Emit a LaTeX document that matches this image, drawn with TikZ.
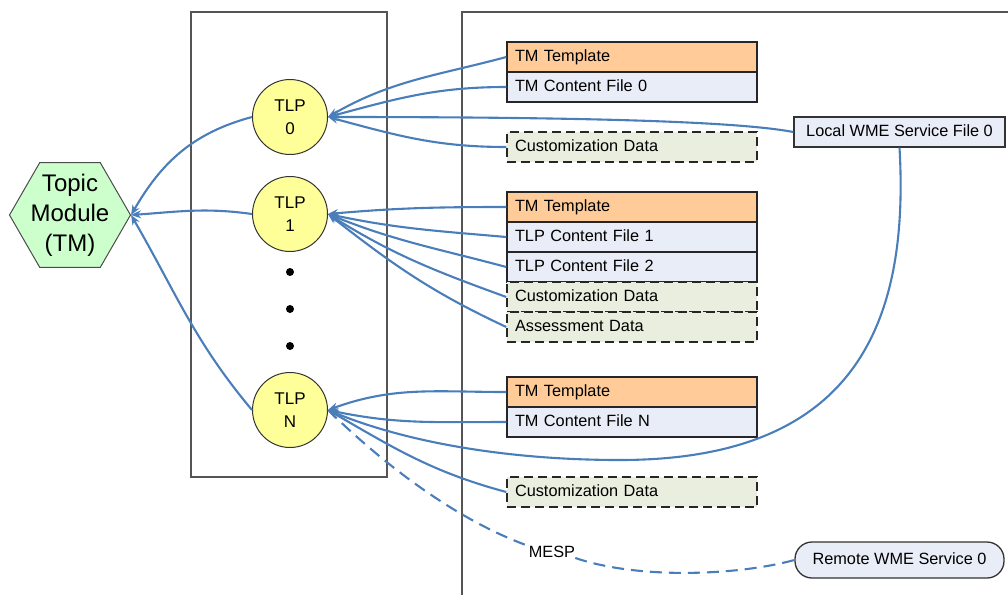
\documentclass[tikz,border=0pt]{standalone}
\usepackage{fontspec}
\setmainfont{Liberation Sans}
\usetikzlibrary{shapes.geometric,arrows.meta}
\definecolor{tplfill}{HTML}{FFCC99}
\definecolor{filefill}{HTML}{E9EDF7}
\definecolor{custfill}{HTML}{EAEEDF}
\definecolor{hexfill}{HTML}{CCFFCC}
\definecolor{tlpfill}{HTML}{FFFF99}
\definecolor{connblue}{HTML}{4A7EBB}
\definecolor{framegray}{HTML}{555555}
\begin{document}
\begin{tikzpicture}[x=1pt,y=-1pt,
  boxbase/.style={draw=black!85, line width=1.4pt, minimum height=30pt, text width=234pt,
    inner xsep=8pt, inner ysep=0pt, align=left, text height=12pt, text depth=3.5pt,
    font=\fontsize{16.3}{19}\selectfont},
  tplbox/.style={boxbase, fill=tplfill},
  filebox/.style={boxbase, fill=filefill},
  custbox/.style={boxbase, fill=custfill, dash pattern=on 9pt off 5pt},
  svcbox/.style={draw=black!80, line width=1.3pt, fill=filefill, inner xsep=0pt, inner ysep=0pt,
    align=center, text height=12pt, text depth=3.5pt, font=\fontsize{16.3}{19}\selectfont},
  tlpnode/.style={circle, draw=black!80, line width=1pt, fill=tlpfill, minimum size=75pt,
    inner sep=0pt, align=center, font=\fontsize{17}{23}\selectfont},
  dotnode/.style={circle, fill=black, inner sep=0pt, minimum size=8pt},
  conn/.style={draw=connblue, line width=2.1pt},
  arr/.style={conn, -{Stealth[length=10pt,width=8pt]}},
  frame/.style={draw=framegray, line width=1.6pt},
]
\useasboundingbox (0,0) rectangle (1008,595);

% frames
\draw[frame] (191,12) rectangle (387,477);
\draw[frame] (462,595) -- (462,12) -- (1010,12);

% topic module
\node[regular polygon, regular polygon sides=6, minimum size=121pt, inner sep=0pt,
      draw=black!70, line width=1pt, fill=hexfill] (tm) at (70,215) {};
\node[align=center, font=\fontsize{24}{30}\selectfont] (tmlabel) at (tm.center) {Topic\\Module\\(TM)};

% TLPs
\node[tlpnode] (tlp0) at (290,117) {TLP\\0};
\node[tlpnode] (tlp1) at (290,214) {TLP\\1};
\node[tlpnode] (tlpN) at (290,410) {TLP\\N};
\node[dotnode] (dot1) at (290,272) {};
\node[dotnode] (dot2) at (290,309) {};
\node[dotnode] (dot3) at (290,346) {};

% group 0
\node[tplbox]  (tmt0)  at (632,57)  {TM Template};
\node[filebox] (cf0)   at (632,87)  {TM Content File 0};
\node[custbox] (cust0) at (632,147) {Customization Data};
% group 1
\node[tplbox]  (tmt1)  at (632,207) {TM Template};
\node[filebox] (cf1)   at (632,237) {TLP Content File 1};
\node[filebox] (cf2)   at (632,267) {TLP Content File 2};
\node[custbox] (cust1) at (632,297) {Customization Data};
\node[custbox] (ass1)  at (632,327) {Assessment Data};
% group N
\node[tplbox]  (tmtN)  at (632,392) {TM Template};
\node[filebox] (cfN)   at (632,422) {TM Content File N};
\node[custbox] (custN) at (632,492) {Customization Data};

% services
\node[svcbox, minimum width=211pt, minimum height=30pt] (local) at (899.5,132) {Local WME Service File 0};
\node[svcbox, minimum width=209pt, minimum height=36pt, rounded corners=17pt] (remote) at (899.5,560) {Remote WME Service 0};

% TLP -> TM
\draw[arr] (tlp0.west) to[out=195,in=60] (tm.east);
\draw[arr] (tlp1.west) to[out=172,in=4] (tm.east);
\draw[arr] (tlpN.west) to[out=130,in=-60] (tm.east);

% group 0 -> TLP0
\draw[arr] (tmt0.west) to[out=195,in=30] (tlp0.east);
\draw[arr] (cf0.west) to[out=180,in=15] (tlp0.east);
\draw[arr] (local.west) .. controls (740,122) and (600,117) .. (tlp0.east);
\draw[arr] (cust0.west) to[out=180,in=-15] (tlp0.east);

% group 1 -> TLP1
\draw[arr] (tmt1.west) to[out=180,in=5] (tlp1.east);
\draw[arr] (cf1.west) to[out=175,in=-12] (tlp1.east);
\draw[arr] (cf2.west) to[out=165,in=-22] (tlp1.east);
\draw[arr] (cust1.west) to[out=160,in=-32] (tlp1.east);
\draw[arr] (ass1.west) to[out=155,in=-38] (tlp1.east);

% group N -> TLPN
\draw[arr] (tmtN.west) to[out=180,in=20] (tlpN.east);
\draw[arr] (cfN.west) to[out=180,in=-12] (tlpN.east);
\draw[arr] (local.south) .. controls (910,330) and (850,460) .. (620,460)
                        .. controls (500,460) and (400,440) .. (tlpN.east);
\draw[arr] (custN.west) to[out=165,in=-30] (tlpN.east);

% MESP dashed link
\node[inner sep=0pt, font=\fontsize{16.3}{19}\selectfont] (mesp) at (552,552) {MESP};
\draw[conn, dash pattern=on 12pt off 7pt] (tlpN.east) .. controls (400,480) and (470,525) .. (mesp.north west);
\draw[conn, dash pattern=on 12pt off 7pt] (mesp.south east) .. controls (640,580) and (740,575) .. (remote.west);
\end{tikzpicture}
\end{document}
